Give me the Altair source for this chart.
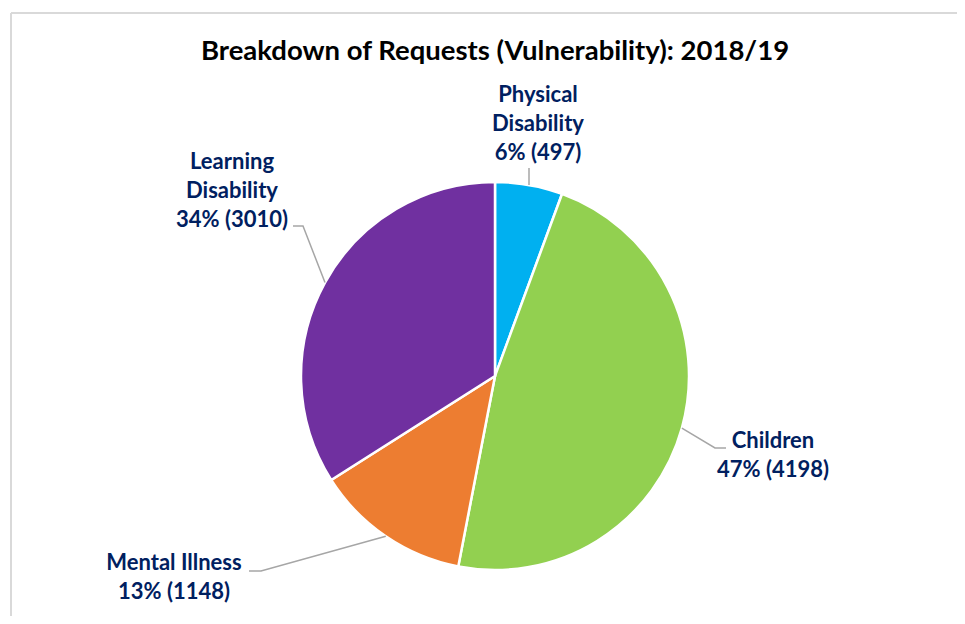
import math
import altair as alt
import pandas as pd

# ---- data ----
categories = ["Physical Disability", "Children", "Mental Illness", "Learning Disability"]
values = [497, 4198, 1148, 3010]
percents = ["6%", "47%", "13%", "34%"]
label_lines = [
    ["Physical", "Disability", "6% (497)"],
    ["Children", "47% (4198)"],
    ["Mental Illness", "13% (1148)"],
    ["Learning", "Disability", "34% (3010)"],
]
colors = ["#00B0F0", "#92D050", "#ED7D31", "#7030A0"]
title_text = "Breakdown of Requests (Vulnerability): 2018/19"

# ---- layout (view pixel space) ----
W, H = 946, 603
CX, CY, R = 484, 363, 194
label_pos = [(527, 82), (762, 428), (163, 550), (221, 149)]
leader_pts = [
    [(518, 155)],
    [(704, 435), (715, 435)],
    [(250, 558), (238, 558)],
    [(292, 213), (282, 213)],
]
FONT = "Lato"
NAVY = "#002060"

total = sum(values)
pie_df = pd.DataFrame({
    "category": categories,
    "value": values,
    "order": list(range(len(values))),
})

# leader lines start at mid-angle on the pie edge
rows = []
cum = 0
for i, v in enumerate(values):
    mid = (cum + v / 2) / total * 2 * math.pi
    cum += v
    sx = CX + R * math.sin(mid)
    sy = CY - R * math.cos(mid)
    pts = [(sx, sy)] + leader_pts[i]
    for j, (px, py) in enumerate(pts):
        rows.append({"category": categories[i], "seq": j, "px": px, "py": py})
lead_df = pd.DataFrame(rows)

lab_df = pd.DataFrame({
    "category": categories,
    "text": label_lines,
    "px": [p[0] for p in label_pos],
    "py": [p[1] for p in label_pos],
})

pie = alt.Chart(pie_df).mark_arc(
    outerRadius=R, stroke="white", strokeWidth=2.5
).encode(
    theta=alt.Theta("value:Q", stack=True),
    order=alt.Order("order:Q"),
    color=alt.Color("category:N", scale=alt.Scale(domain=categories, range=colors), legend=None),
    x=alt.value(CX),
    y=alt.value(CY),
)

leaders = alt.Chart(lead_df).mark_line(color="#A6A6A6", strokeWidth=1.5).encode(
    x=alt.X("px:Q", scale=None),
    y=alt.Y("py:Q", scale=None),
    detail="category:N",
    order="seq:Q",
)

labels = alt.Chart(lab_df).mark_text(
    font=FONT, fontWeight="bold", fontSize=22, color=NAVY,
    align="center", baseline="middle", lineHeight=29,
).encode(
    x=alt.X("px:Q", scale=None),
    y=alt.Y("py:Q", scale=None),
    text="text",
)

title = alt.Chart(pd.DataFrame({"t": [title_text]})).mark_text(
    font=FONT, fontWeight="bold", fontSize=27.5, color="#000000",
    align="center", baseline="middle",
).encode(x=alt.value(CX), y=alt.value(39), text="t:N")

border_top = alt.Chart(pd.DataFrame({"a": [0]})).mark_rule(color="#D9D9D9", strokeWidth=2).encode(
    x=alt.value(0), x2=alt.value(W), y=alt.value(0)
)
border_left = alt.Chart(pd.DataFrame({"a": [0]})).mark_rule(color="#D9D9D9", strokeWidth=2).encode(
    x=alt.value(0), y=alt.value(0), y2=alt.value(H)
)

chart = alt.layer(border_top, border_left, pie, leaders, labels, title).properties(
    width=W, height=H,
    autosize=alt.AutoSizeParams(type="none"),
    padding={"left": 3, "top": 5, "right": 0, "bottom": 0},
).configure_view(stroke=None)

chart.save("out.html", embed_options={"renderer": "svg", "actions": False})
